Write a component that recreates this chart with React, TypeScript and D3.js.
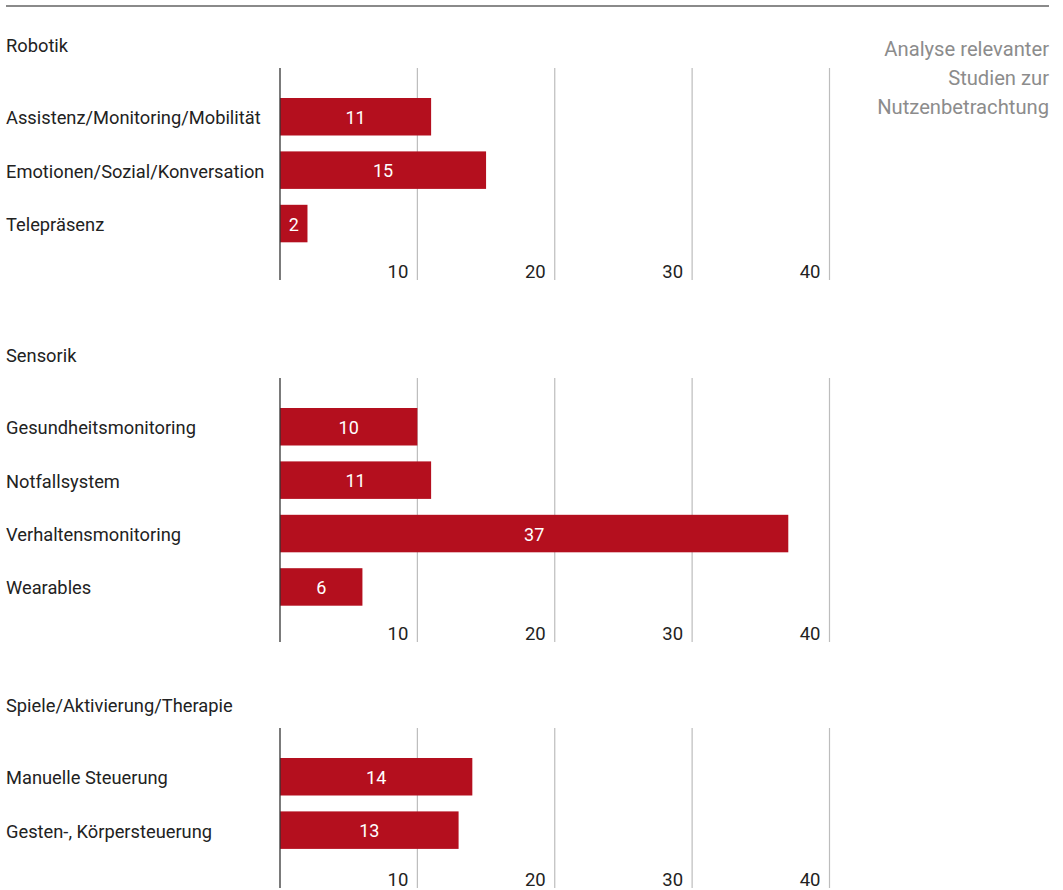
import React from "react";
import * as d3 from "d3";

const robotikLabels = ["Assistenz/Monitoring/Mobilität", "Emotionen/Sozial/Konversation", "Telepräsenz"];
const robotikValues = [11, 15, 2];
const sensorikLabels = ["Gesundheitsmonitoring", "Notfallsystem", "Verhaltensmonitoring", "Wearables"];
const sensorikValues = [10, 11, 37, 6];
const spieleLabels = ["Manuelle Steuerung", "Gesten-, Körpersteuerung"];
const spieleValues = [14, 13];
const sectionTitles = ["Robotik", "Sensorik", "Spiele/Aktivierung/Therapie"];
const tickValues = [10, 20, 30, 40];
const titleLines = ["Analyse relevanter", "Studien zur", "Nutzenbetrachtung"];

const W = 1063;
const H = 890;
const FONT = "Roboto, 'Noto Sans', sans-serif";
const RED = "#b40f1e";

const sections = [
  { title: sectionTitles[0], labels: robotikLabels, values: robotikValues, top: 68 },
  { title: sectionTitles[1], labels: sensorikLabels, values: sensorikValues, top: 378 },
  { title: sectionTitles[2], labels: spieleLabels, values: spieleValues, top: 728 },
];

const x = d3.scaleLinear().domain([0, 40]).range([280, 829.5]);

function Section({ s }: { s: (typeof sections)[number] }) {
  const n = s.labels.length;
  const step = 53.4;
  const bw = 37.5;
  const y = d3
    .scaleBand<string>()
    .domain(s.labels)
    .range([s.top + 30, s.top + 30 + n * step - (step - bw)])
    .paddingInner((step - bw) / step)
    .paddingOuter(0);
  const bottom = s.top + 56 + 52 * n;
  return (
    <g>
      <text x={6} y={s.top - 22} dy="0.35em" fontSize={18.3} fill="#222" fontFamily={FONT}>
        {s.title}
      </text>
      {tickValues.map((t) => (
        <g key={t}>
          <line x1={x(t)} x2={x(t)} y1={s.top} y2={bottom} stroke="#bdbdbd" strokeWidth={1.2} />
          <text x={x(t) - 9} y={bottom - 2} textAnchor="end" fontSize={18.5} fill="#222" fontFamily={FONT}>
            {t}
          </text>
        </g>
      ))}
      {s.labels.map((l, i) => (
        <g key={l}>
          <text x={6} y={y(l)! + y.bandwidth() / 2 + 1} dy="0.35em" fontSize={18.3} fill="#222" fontFamily={FONT}>
            {l}
          </text>
          <rect x={x(0)} y={y(l)!} width={x(s.values[i]) - x(0)} height={y.bandwidth()} fill={RED} />
          <text
            x={(x(0) + x(s.values[i])) / 2}
            y={y(l)! + y.bandwidth() / 2 + 1}
            dy="0.35em"
            textAnchor="middle"
            fontSize={18}
            fill="#fff"
            fontFamily={FONT}
          >
            {s.values[i]}
          </text>
        </g>
      ))}
      <line x1={x(0)} x2={x(0)} y1={s.top} y2={bottom} stroke="#333" strokeWidth={1.3} />
    </g>
  );
}

export default function App() {
  return (
    <svg width={W} height={H} style={{ position: "absolute", left: 0, top: 0, background: "#fff" }}>
      <line x1={6} x2={1049} y1={6} y2={6} stroke="#8a8a8a" strokeWidth={2} />
      {titleLines.map((t, i) => (
        <text key={t} x={1049} y={55.5 + i * 29} textAnchor="end" fontSize={20.2} fill="#8c8c8c" fontFamily={FONT}>
          {t}
        </text>
      ))}
      {sections.map((s) => (
        <Section key={s.title} s={s} />
      ))}
    </svg>
  );
}
